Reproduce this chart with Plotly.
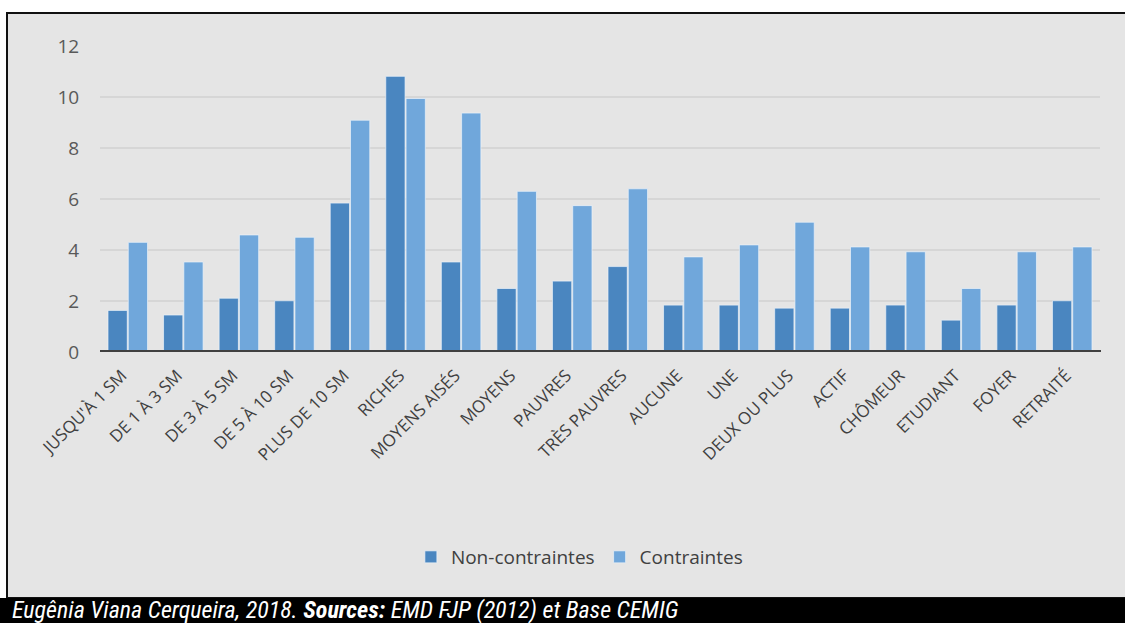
import plotly.graph_objects as go

categories = ["JUSQU'À 1 SM", "DE 1 À 3 SM", "DE 3 À 5 SM", "DE 5 À 10 SM", "PLUS DE 10 SM",
              "RICHES", "MOYENS AISÉS", "MOYENS", "PAUVRES", "TRÈS PAUVRES",
              "AUCUNE", "UNE", "DEUX OU PLUS", "ACTIF", "CHÔMEUR", "ETUDIANT", "FOYER", "RETRAITÉ"]
non_contraintes = [1.63, 1.45, 2.11, 2.01, 5.84, 10.81, 3.53, 2.49, 2.78, 3.35,
                   1.84, 1.84, 1.72, 1.72, 1.84, 1.25, 1.84, 2.01]
contraintes = [4.30, 3.53, 4.59, 4.50, 9.09, 9.94, 9.37, 6.30, 5.74, 6.40,
               3.73, 4.20, 5.09, 4.12, 3.93, 2.49, 3.93, 4.12]
y_ticks = [0, 2, 4, 6, 8, 10, 12]

W, H = 1125, 623
def px(x): return x / W
def py(y): return 1 - y / H

fig = go.Figure()
fig.add_trace(go.Bar(x=categories, y=non_contraintes, name="Non-contraintes",
                     marker=dict(color="#4a86c0", line=dict(color="rgba(235,242,250,0.7)", width=1))))
fig.add_trace(go.Bar(x=categories, y=contraintes, name="Contraintes",
                     marker=dict(color="#70a7db", line=dict(color="rgba(235,242,250,0.7)", width=1))))

shapes = [
    dict(type="rect", xref="paper", yref="paper", x0=px(7), x1=px(1126), y0=py(598), y1=py(13),
         fillcolor="#e5e5e5", line=dict(color="#111111", width=2), layer="below"),
    dict(type="rect", xref="paper", yref="paper", x0=0, x1=1, y0=0, y1=py(598),
         fillcolor="#000000", line=dict(width=0), layer="above"),
    dict(type="line", xref="paper", yref="y", x0=px(100), x1=px(1101), y0=0, y1=0,
         line=dict(color="#404040", width=4), layer="above"),
]

fig.update_layout(
    width=W, height=H,
    margin=dict(l=0, r=0, t=0, b=0),
    paper_bgcolor="#ffffff", plot_bgcolor="rgba(0,0,0,0)",
    barmode="group", bargap=0.27, bargroupgap=0.05,
    font=dict(family="Open Sans", color="#404040"),
    shapes=shapes,
    showlegend=True,
    legend=dict(orientation="h", x=0.515, xanchor="center", y=py(557), yanchor="middle",
                font=dict(size=19, color="#404040"), bgcolor="rgba(0,0,0,0)",
                itemwidth=30, tracegroupgap=0),
    xaxis=dict(domain=[px(100), px(1100)], automargin=False, tickangle=-45,
               tickfont=dict(size=17, color="#404040"), showgrid=False, zeroline=False,
               ticks="outside", ticklen=6, tickcolor="rgba(0,0,0,0)", showline=False,
               ticklabelshift=-6),
    yaxis=dict(domain=[py(352), py(46)], automargin=False, range=[0, 12],
               tickvals=y_ticks, tickfont=dict(size=19, color="#595959"),
               showgrid=True, gridcolor="#d6d6d6", gridwidth=2, zeroline=False,
               ticks="outside", ticklen=16, tickcolor="rgba(0,0,0,0)", showline=False),
    annotations=[dict(xref="paper", yref="paper", x=px(10), y=py(609.5), xanchor="left", yanchor="middle",
                      showarrow=False,
                      text="<i>Eugênia Viana Cerqueira, 2018. <b>Sources:</b> EMD FJP (2012) et Base CEMIG</i>",
                      font=dict(family="Liberation Sans Narrow, Roboto Condensed, Arial Narrow, sans-serif",
                                size=24, color="#ffffff"))],
)

fig.write_html("out.html", config={"displayModeBar": False},
               post_script="document.body.style.margin='0';document.body.style.overflow='hidden';")
